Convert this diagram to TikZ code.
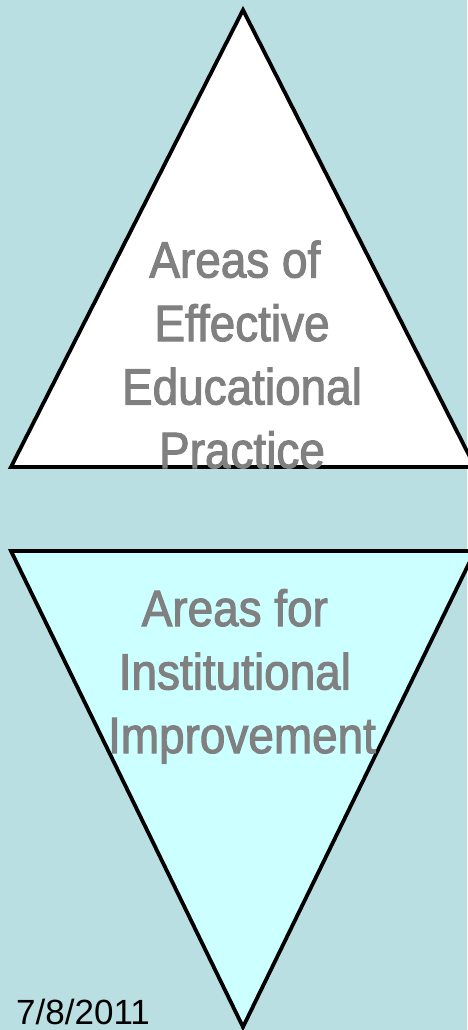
\documentclass[tikz,border=0pt]{standalone}
\usepackage{fontspec}
\setmainfont{Liberation Sans}
\newfontfamily\lblfont[FakeStretch=0.9,FakeBold=2]{Liberation Sans}
\definecolor{bgcol}{HTML}{BADFE3}
\definecolor{lowfill}{HTML}{CCFFFF}
\definecolor{txtgray}{HTML}{808080}
\tikzset{
  tri/.style={draw=black, line width=3.8pt, line join=miter},
  label/.style={inner sep=0pt, align=center, text=txtgray, font=\lblfont\fontsize{51}{63.5}\selectfont},
  datelabel/.style={inner sep=0pt, anchor=base west, font=\fontsize{35}{40}\selectfont, text=black}
}
\begin{document}
\begin{tikzpicture}[x=1pt,y=-1pt]
\fill[bgcol] (0,0) rectangle (467,1030);
\useasboundingbox (0,0) rectangle (467,1030);
\coordinate (ua) at (243,10);
\coordinate (ul) at (11,467);
\coordinate (ur) at (475,467);
\coordinate (ll) at (11,551);
\coordinate (lr) at (475,551);
\coordinate (la) at (243,1027);
\filldraw[tri, fill=white] (ua) -- (ul) -- (ur) -- cycle;
\filldraw[tri, fill=lowfill] (ll) -- (lr) -- (la) -- cycle;
\node[label, anchor=base] (top) at (242,468) {Areas of\kern0.28em\\Effective\\Educational\\Practice};
\node[label, anchor=base] (bot) at (242,753) {Areas for\kern0.28em\\Institutional\kern0.28em\\Improvement};
\node[datelabel] (date) at (16,1024) {7/8/2011};
\end{tikzpicture}
\end{document}
